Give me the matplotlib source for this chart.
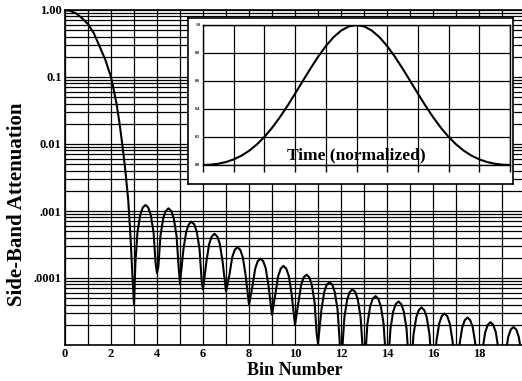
import numpy as np
import matplotlib
matplotlib.use("Agg")
import matplotlib.pyplot as plt
from matplotlib.ticker import FixedLocator, LogLocator, NullFormatter

plt.rcParams["font.family"] = ["Liberation Serif", "DejaVu Serif"]
plt.rcParams["font.weight"] = "bold"

# main lobe (bin, attenuation in dB)
main_bins = [0.0, 0.25, 0.5, 0.75, 1.0, 1.25, 1.5, 1.75, 2.0, 2.125, 2.25,
             2.375, 2.5, 2.625, 2.75, 2.85, 2.93, 3.0]
main_db = [0.0, -0.28, -1.1, -2.5, -4.2, -6.9, -10.8, -14.8, -20.0, -24.0, -28.4,
           -34.0, -40.6, -48.0, -56.8, -68.0, -79.0, -87.8]

# side lobes, one row per lobe, ending on the null
side_bins = [
    3.06, 3.15, 3.27, 3.38, 3.5, 3.62, 3.73, 3.85, 3.94, 4.0,
    4.06, 4.15, 4.27, 4.38, 4.5, 4.62, 4.73, 4.85, 4.94, 5.0,
    5.15, 5.27, 5.38, 5.5, 5.62, 5.73, 5.85, 5.94, 6.0,
    6.15, 6.27, 6.38, 6.5, 6.62, 6.73, 6.85, 7.0,
    7.15, 7.27, 7.38, 7.5, 7.62, 7.73, 7.85, 8.0,
    8.15, 8.27, 8.38, 8.5, 8.62, 8.73, 8.85, 9.0,
    9.15, 9.27, 9.38, 9.5, 9.62, 9.73, 9.85, 10.0,
    10.15, 10.27, 10.38, 10.5, 10.62, 10.73, 10.85, 10.94, 11.0,
    11.15, 11.27, 11.38, 11.5, 11.62, 11.73, 11.85, 11.94, 12.0,
    12.06, 12.15, 12.27, 12.38, 12.5, 12.62, 12.73, 12.85, 12.94, 13.0,
    13.06, 13.15, 13.27, 13.38, 13.5, 13.62, 13.73, 13.85, 13.94, 14.0,
    14.06, 14.15, 14.27, 14.38, 14.5, 14.62, 14.73, 14.85, 14.94, 15.0,
    15.06, 15.15, 15.27, 15.38, 15.5, 15.62, 15.73, 15.85, 15.94, 16.0,
    16.06, 16.15, 16.27, 16.38, 16.5, 16.62, 16.73, 16.85, 16.94, 17.0,
    17.06, 17.15, 17.27, 17.38, 17.5, 17.62, 17.73, 17.85, 17.94, 18.0,
    18.06, 18.15, 18.27, 18.38, 18.5, 18.62, 18.73, 18.85, 18.94, 19.0,
    19.06, 19.15, 19.27, 19.38, 19.5, 19.62, 19.73, 19.85, 19.94, 20.0,
]
side_db = [
    -75.6, -66.4, -61.2, -59.0, -58.2, -59.0, -61.2, -66.4, -75.6, -78.6,
    -76.6, -67.4, -62.2, -60.0, -59.2, -60.0, -62.2, -67.4, -76.6, -81.6,
    -71.4, -66.2, -64.0, -63.2, -64.0, -66.2, -71.4, -80.6, -83.4,
    -75.0, -69.8, -67.6, -66.8, -67.6, -69.8, -75.0, -84.0,
    -79.0, -73.8, -71.6, -70.8, -71.6, -73.8, -79.0, -88.0,
    -82.4, -77.2, -75.0, -74.2, -75.0, -77.2, -82.4, -91.0,
    -84.6, -79.4, -77.2, -76.4, -77.2, -79.4, -84.6, -94.0,
    -87.2, -82.0, -79.8, -79.0, -79.8, -82.0, -87.2, -96.4, -99.6,
    -89.4, -84.2, -82.0, -81.2, -82.0, -84.2, -89.4, -98.6, -115.0,
    -100.8, -91.6, -86.4, -84.2, -83.4, -84.2, -86.4, -91.6, -100.8, -115.0,
    -102.8, -93.6, -88.4, -86.2, -85.4, -86.2, -88.4, -93.6, -102.8, -115.0,
    -104.4, -95.2, -90.0, -87.8, -87.0, -87.8, -90.0, -95.2, -104.4, -115.0,
    -106.2, -97.0, -91.8, -89.6, -88.8, -89.6, -91.8, -97.0, -106.2, -115.0,
    -108.0, -98.8, -93.6, -91.4, -90.6, -91.4, -93.6, -98.8, -108.0, -115.0,
    -109.2, -100.0, -94.8, -92.6, -91.8, -92.6, -94.8, -100.0, -109.2, -115.0,
    -110.6, -101.4, -96.2, -94.0, -93.2, -94.0, -96.2, -101.4, -110.6, -115.0,
    -112.0, -102.8, -97.6, -95.4, -94.6, -95.4, -97.6, -102.8, -112.0, -115.0,
]

# inset: the window in time
time_norm = [0.0, 0.025, 0.05, 0.075, 0.1, 0.125, 0.15, 0.175, 0.2, 0.225, 0.25,
             0.275, 0.3, 0.325, 0.35, 0.375, 0.4, 0.425, 0.45, 0.475, 0.5,
             0.525, 0.55, 0.575, 0.6, 0.625, 0.65, 0.675, 0.7, 0.725, 0.75,
             0.775, 0.8, 0.825, 0.85, 0.875, 0.9, 0.925, 0.95, 0.975, 1.0]
window = [0.0, 0.0023, 0.0092, 0.0215, 0.040, 0.0664, 0.1014, 0.146, 0.2008, 0.2657, 0.34,
          0.4221, 0.5098, 0.60, 0.6892, 0.7736, 0.8492, 0.9125, 0.9602, 0.9899, 1.0,
          0.9899, 0.9602, 0.9125, 0.8492, 0.7736, 0.6892, 0.60, 0.5098, 0.4221, 0.34,
          0.2657, 0.2008, 0.146, 0.1014, 0.0664, 0.040, 0.0215, 0.0092, 0.0023, 0.0]

ytick_vals = [1.0, 0.1, 0.01, 0.001, 0.0001]
ytick_labels = ["1.00", "0.1", "0.01", ".001", ".0001"]
xtick_vals = [0, 2, 4, 6, 8, 10, 12, 14, 16, 18]
inset_yticks = [0.0, 0.2, 0.4, 0.6, 0.8, 1.0]

bins = np.array(main_bins + side_bins)
atten = 10 ** (np.array(main_db + side_db) / 20.0)

W, H = 522, 381
fig = plt.figure(figsize=(W / 100, H / 100), dpi=100)
fig.patch.set_facecolor("white")


def px(x0, y0, x1, y1):
    return [x0 / W, 1 - y1 / H, (x1 - x0) / W, (y1 - y0) / H]


ax = fig.add_axes(px(65, 10, 525, 345))
ax.set_yscale("log")
ax.set_xlim(0, 20)
ax.set_ylim(1e-5, 1.0)
ax.plot(bins, atten, color="black", lw=1.5, zorder=3)

ax.xaxis.set_major_locator(FixedLocator(xtick_vals))
ax.xaxis.set_minor_locator(FixedLocator(range(0, 21)))
ax.set_xticklabels([str(v) for v in xtick_vals], fontsize=9, fontweight="bold")
ax.set_yticks(ytick_vals)
ax.set_yticklabels(ytick_labels, fontsize=9, fontweight="bold")
ax.yaxis.set_minor_locator(LogLocator(base=10, subs=np.arange(2, 10)))
ax.yaxis.set_minor_formatter(NullFormatter())
ax.tick_params(which="both", length=0, pad=2.5)
ax.grid(True, which="both", axis="both", color="black", lw=0.9)
for s in ax.spines.values():
    s.set_linewidth(1.2)

ax.set_xlabel("Bin Number", fontsize=13, fontweight="bold", labelpad=1)
fig.text(17.5 / W, 1 - 204 / H, "Side-Band Attenuation", rotation=90,
         ha="center", va="center", fontsize=15, fontweight="bold")

# white framed box holding the inset
frame = fig.add_axes(px(188, 18, 513, 184))
frame.set_xticks([])
frame.set_yticks([])
frame.set_facecolor("white")
for s in frame.spines.values():
    s.set_linewidth(1.2)

ins = fig.add_axes(px(203, 25, 510, 165))
ins.plot(time_norm, window, color="black", lw=1.5, zorder=3)
ins.set_xlim(0, 1)
ins.set_ylim(0, 1)
ins.set_xticks(np.arange(0, 1.01, 0.1))
ins.set_xticklabels([])
ins.set_yticks(inset_yticks)
ins.set_yticklabels(["%.1f" % v for v in inset_yticks], fontsize=3)
ins.tick_params(axis="x", direction="out", length=5, width=1)
ins.tick_params(axis="y", length=0, pad=2)
ins.grid(True, color="black", lw=0.9)
for s in ins.spines.values():
    s.set_linewidth(1.0)
ins.text(0.5, 0.015, "Time (normalized)", transform=ins.transAxes,
         ha="center", va="bottom", fontsize=12.5, fontweight="bold", zorder=4)

fig.savefig("out.png", dpi=100)
